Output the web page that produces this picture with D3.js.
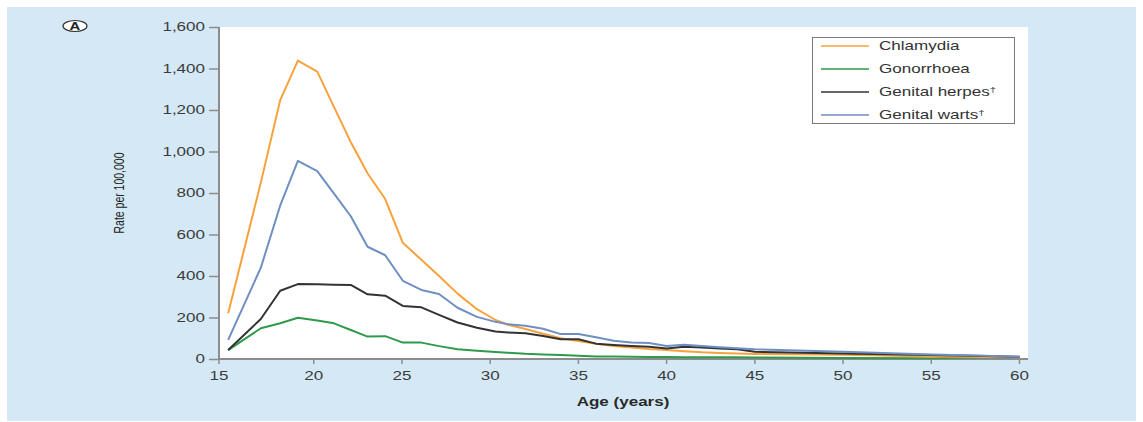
<!DOCTYPE html>
<html>
<head>
<meta charset="utf-8">
<script src="https://cdn.jsdelivr.net/npm/d3@7"></script>
<style>
  html, body { margin: 0; padding: 0; background: #ffffff; }
  svg { display: block; }
  text { font-family: "Liberation Sans", Arial, Helvetica, sans-serif; }
</style>
</head>
<body>
<svg id="chart" width="1143" height="422"></svg>
<script>
// ---------- DATA ----------
const ages = [15.15, 17, 18.1, 19.1, 20.2, 21.15, 22.1, 23.05, 24.05, 25.05, 26.1, 27.1, 28.15, 29.25, 30.3, 31, 32, 33, 34, 35, 36, 37, 38, 39, 40, 41, 42, 43, 44, 45, 50, 55, 58, 60];
const chlamydia = [220, 850, 1248, 1438, 1385, 1214, 1045, 895, 771, 560, 478, 400, 315, 240, 188, 165, 145, 122, 100, 87, 73, 63, 55, 48, 43, 37, 32, 29, 26, 24, 20, 12, 10, 9];
const gonorrhoea = [43, 148, 172, 199, 186, 172, 140, 108, 110, 79, 79, 62, 47, 40, 34, 30, 25, 22, 19, 16, 12, 12, 11, 10, 10, 9, 9, 8, 8, 7, 5, 4, 8, 10];
const genitalHerpes = [43, 193, 329, 361, 360, 358, 357, 312, 305, 256, 249, 213, 176, 151, 133, 128, 124, 111, 95, 95, 74, 68, 63, 59, 51, 59, 55, 51, 47, 35, 26, 19, 14, 11];
const genitalWarts = [92, 440, 740, 955, 905, 797, 688, 541, 500, 377, 333, 313, 247, 203, 179, 168, 160, 146, 120, 120, 105, 88, 80, 77, 63, 69, 63, 57, 52, 47, 35, 22, 16, 11];
const seriesNames = ["Chlamydia", "Gonorrhoea", "Genital herpes", "Genital warts"];
const seriesDagger = [false, false, true, true];
const seriesColors = ["#f7a23c", "#2f9a4c", "#333333", "#6f8fc3"];
const xTicks = [15, 20, 25, 30, 35, 40, 45, 50, 55, 60];
const yTicks = [0, 200, 400, 600, 800, 1000, 1200, 1400, 1600];
const xAxisStart = 14.63; // the axis origin (first tick "15" is drawn at the origin)
const xTitle = "Age (years)";
const yTitle = "Rate per 100,000";
const panelLabel = "A";

// ---------- LAYOUT ----------
const SX = 1.42; // horizontal text stretch seen in the reference
const svg = d3.select("#chart");
const x = d3.scaleLinear().domain([xAxisStart, 60]).range([219, 1019.5]);
const y = d3.scaleLinear().domain([0, 1600]).range([359, 27]);
const axisColor = "#8c8c8c";
const textColor = "#3c3c3c";

// background panel
svg.append("rect").attr("x", 7).attr("y", 7).attr("width", 1129).attr("height", 414).attr("fill", "#d4e9f5");
// plot area
svg.append("rect").attr("x", 219).attr("y", 27).attr("width", 1028 - 219).attr("height", 359 - 27).attr("fill", "#ffffff");

// panel label
svg.append("ellipse").attr("cx", 75).attr("cy", 26).attr("rx", 12).attr("ry", 5.5)
  .attr("fill", "#ffffff").attr("stroke", "#333").attr("stroke-width", 1.2);
svg.append("text").attr("transform", `translate(75,29.8) scale(${SX},1)`)
  .attr("text-anchor", "middle").attr("font-size", 10.5).attr("font-weight", "bold")
  .attr("fill", "#222").text(panelLabel);

// axes
const yAxis = d3.axisLeft(y).tickValues(yTicks).tickSize(10).tickSizeOuter(0).tickPadding(4)
  .tickFormat(d3.format(","));
const gy = svg.append("g").attr("transform", "translate(219,0)").call(yAxis);
gy.select(".domain").remove();
gy.selectAll(".tick line").attr("stroke", axisColor).attr("stroke-width", 1.5);
gy.selectAll(".tick text").attr("x", -14 / SX).attr("transform", `scale(${SX},1)`)
  .attr("font-size", 12).attr("fill", textColor).attr("font-family", null);

const xAxis = d3.axisBottom(x).tickValues(xTicks).tickSize(5).tickSizeOuter(0).tickPadding(7.5);
const gx = svg.append("g").attr("transform", "translate(0,359)").call(xAxis);
gx.select(".domain").remove();
gx.selectAll(".tick line").attr("stroke", axisColor).attr("stroke-width", 1.5);
gx.selectAll(".tick text").attr("transform", `scale(${SX},1)`)
  .attr("font-size", 12).attr("fill", textColor).attr("font-family", null);
gx.selectAll(".tick").attr("transform", d => `translate(${x(d === xTicks[0] ? xAxisStart : d)},0)`);

svg.append("line").attr("x1", 219).attr("x2", 219).attr("y1", y(1600)).attr("y2", 360)
  .attr("stroke", axisColor).attr("stroke-width", 2);
svg.append("line").attr("x1", 218).attr("x2", 1028).attr("y1", 359).attr("y2", 359)
  .attr("stroke", axisColor).attr("stroke-width", 2);

// axis titles
svg.append("text").attr("transform", `translate(623,406) scale(${SX},1)`)
  .attr("text-anchor", "middle").attr("font-size", 12).attr("font-weight", "bold")
  .attr("fill", "#2a2a2a").text(xTitle);
svg.append("text").attr("transform", `translate(124,193) scale(${SX},1) rotate(-90)`)
  .attr("text-anchor", "middle").attr("font-size", 10.5)
  .attr("fill", "#222").text(yTitle);

// lines
const allSeries = [chlamydia, gonorrhoea, genitalHerpes, genitalWarts];
const line = d3.line().x((d, i) => x(ages[i])).y(d => y(d));
const drawOrder = [1, 0, 2, 3];
drawOrder.forEach(k => {
  svg.append("path").datum(allSeries[k]).attr("d", line)
    .attr("fill", "none").attr("stroke", seriesColors[k]).attr("stroke-width", 2)
    .attr("stroke-linejoin", "round");
});

// legend
const lg = svg.append("g");
lg.append("rect").attr("x", 812.5).attr("y", 37.5).attr("width", 202).attr("height", 86)
  .attr("fill", "#ffffff").attr("stroke", "#7a7a7a").attr("stroke-width", 1);
seriesNames.forEach((name, i) => {
  const ry = 46 + i * 23;
  lg.append("line").attr("x1", 821).attr("x2", 869).attr("y1", ry).attr("y2", ry)
    .attr("stroke", seriesColors[i]).attr("stroke-width", 1.5);
  const t = lg.append("text").attr("transform", `translate(879,${ry + 4.3}) scale(${SX},1)`)
    .attr("font-size", 12).attr("fill", "#333").text(name);
  if (seriesDagger[i]) {
    t.append("tspan").attr("font-size", 8).attr("dy", -4).text("\u2020");
  }
});
</script>
</body>
</html>
